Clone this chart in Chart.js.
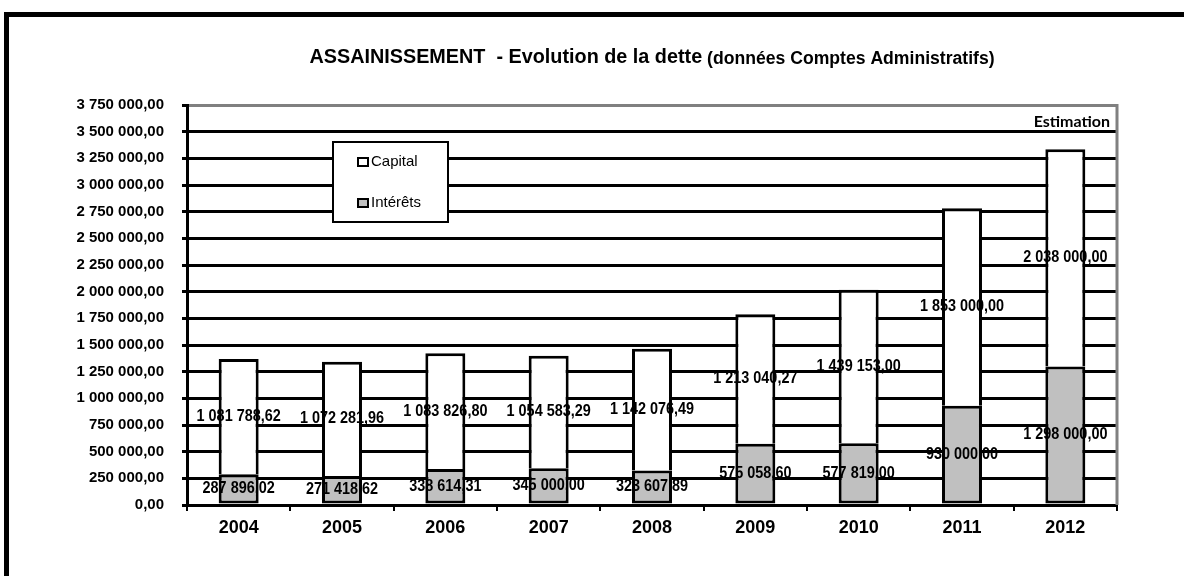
<!DOCTYPE html>
<html>
<head>
<meta charset="utf-8">
<title>Assainissement - Evolution de la dette</title>
<script src="https://cdn.jsdelivr.net/npm/chart.js@4.4.1/dist/chart.umd.min.js"></script>
<style>
  body { margin: 0; background: #fff; }
  canvas { display: block; }
</style>
</head>
<body>
<canvas id="dette" width="1184" height="576"></canvas>
<script>
// données
var annees = ['2004', '2005', '2006', '2007', '2008', '2009', '2010', '2011', '2012'];
var capital = [1081788.62, 1072281.96, 1083826.80, 1054583.29, 1142076.49, 1213040.27, 1439153.00, 1853000.00, 2038000.00];
var interets = [287896.02, 271418.62, 338614.31, 345000.00, 323607.89, 575058.60, 577819.00, 930000.00, 1298000.00];
var titre = 'ASSAINISSEMENT  - Evolution de la dette';
var sousTitre = ' (données Comptes Administratifs)';
var mention = 'Estimation';

var yMax = 3750000;
var yPas = 250000;

Chart.defaults.font.family = "'Liberation Sans', Arial, sans-serif";
Chart.defaults.color = '#000';

function formatFr(v) {
    var parts = v.toFixed(2).split('.');
    var ent = parts[0].replace(/\B(?=(\d{3})+(?!\d))/g, ' ');
    return ent + ',' + parts[1];
}

// cadre noir autour du graphique
var cadre = {
    id: 'cadre',
    beforeDraw: function(chart) {
        var ctx = chart.ctx;
        ctx.save();
        ctx.fillStyle = '#fff';
        ctx.fillRect(0, 0, chart.width, chart.height);
        ctx.strokeStyle = '#000';
        ctx.lineWidth = 5;
        ctx.strokeRect(6.5, 14.5, chart.width + 50, chart.height + 50);
        ctx.restore();
    }
};

// bord droit gris de la zone de tracé
var bordure = {
    id: 'bordure',
    beforeDatasetsDraw: function(chart) {
        var ca = chart.chartArea;
        var ctx = chart.ctx;
        ctx.save();
        ctx.strokeStyle = '#808080';
        ctx.lineWidth = 3;
        ctx.beginPath();
        ctx.moveTo(ca.right, ca.top - 1);
        ctx.lineTo(ca.right, ca.bottom);
        ctx.stroke();
        ctx.restore();
    }
};

// titre en deux morceaux (tailles différentes)
var titreDeux = {
    id: 'titreDeux',
    afterDraw: function(chart) {
        var ctx = chart.ctx;
        var ca = chart.chartArea;
        var etirement = 1.1;
        ctx.save();
        ctx.fillStyle = '#000';
        ctx.textBaseline = 'middle';
        ctx.font = "bold 18px 'Liberation Sans', Arial, sans-serif";
        var w1 = ctx.measureText(titre).width;
        ctx.font = "bold 16px 'Liberation Sans', Arial, sans-serif";
        var w2 = ctx.measureText(sousTitre).width;
        var total = (w1 + w2) * etirement;
        var x0 = (ca.left + ca.right) / 2 - total / 2;
        ctx.translate(x0, 58);
        ctx.scale(etirement, 1.1);
        ctx.textAlign = 'left';
        ctx.font = "bold 18px 'Liberation Sans', Arial, sans-serif";
        ctx.fillText(titre, 0, 0);
        ctx.font = "bold 16px 'Liberation Sans', Arial, sans-serif";
        ctx.fillText(sousTitre, w1, 1);
        ctx.restore();
    }
};

// étiquettes de valeurs au centre de chaque segment
var etiquettes = {
    id: 'etiquettes',
    afterDatasetsDraw: function(chart) {
        var ctx = chart.ctx;
        ctx.save();
        ctx.font = "bold 14px 'Liberation Sans', Arial, sans-serif";
        ctx.fillStyle = '#000';
        ctx.textAlign = 'center';
        ctx.textBaseline = 'middle';
        chart.data.datasets.forEach(function(ds, i) {
            var meta = chart.getDatasetMeta(i);
            meta.data.forEach(function(bar, j) {
                var y = (bar.y + bar.base) / 2;
                ctx.save();
                ctx.translate(bar.x, y);
                ctx.scale(1.03, 1.15);
                ctx.fillText(formatFr(ds.data[j]), 0, 0);
                ctx.restore();
            });
        });
        ctx.restore();
    }
};

// légende encadrée dans la zone de tracé + mention "Estimation"
var legende = {
    id: 'legende',
    afterDatasetsDraw: function(chart) {
        var ctx = chart.ctx;
        var ca = chart.chartArea;
        var bx = ca.left + 146, by = ca.top + 37, bw = 115, bh = 80;
        ctx.save();
        ctx.fillStyle = '#fff';
        ctx.fillRect(bx, by, bw, bh);
        ctx.strokeStyle = '#000';
        ctx.lineWidth = 2;
        ctx.strokeRect(bx, by, bw, bh);

        var items = [chart.data.datasets[1], chart.data.datasets[0]];
        ctx.font = "15px 'Liberation Sans', Arial, sans-serif";
        ctx.textBaseline = 'middle';
        ctx.textAlign = 'left';
        items.forEach(function(ds, k) {
            var cy = by + 20 + k * 41;
            ctx.fillStyle = ds.backgroundColor;
            ctx.fillRect(bx + 25, cy - 4, 10, 8);
            ctx.lineWidth = 2;
            ctx.strokeStyle = '#000';
            ctx.strokeRect(bx + 25, cy - 4, 10, 8);
            ctx.fillStyle = '#000';
            ctx.fillText(ds.label, bx + 38, cy);
        });

        ctx.font = "bold 16px Lato, 'Liberation Sans', sans-serif";
        ctx.textAlign = 'right';
        ctx.fillText(mention, ca.right - 7, ca.top + 17);
        ctx.restore();
    }
};

var ctx = document.getElementById('dette').getContext('2d');
var chart = new Chart(ctx, {
    type: 'bar',
    data: {
        labels: annees,
        datasets: [{
            label: 'Intérêts',
            data: interets,
            backgroundColor: '#c0c0c0',
            borderColor: '#000',
            borderWidth: 3,
            borderSkipped: false
        }, {
            label: 'Capital',
            data: capital,
            backgroundColor: '#ffffff',
            borderColor: '#000',
            borderWidth: 3,
            borderSkipped: 'bottom'
        }]
    },
    options: {
        responsive: false,
        animation: false,
        layout: { padding: { left: 0, right: 67, top: 105, bottom: 0 } },
        datasets: { bar: { categoryPercentage: 1.0, barPercentage: 0.387 } },
        plugins: {
            legend: { display: false },
            title: { display: false },
            tooltip: { enabled: false }
        },
        scales: {
            x: {
                stacked: true,
                grid: {
                    display: true,
                    drawOnChartArea: false,
                    drawTicks: true,
                    tickLength: 6,
                    offset: true,
                    color: '#000',
                    lineWidth: 2
                },
                border: { display: true, color: '#000', width: 3 },
                ticks: {
                    padding: 6,
                    font: { size: 18, weight: 'bold' },
                    color: '#000'
                },
                afterFit: function(scale) { scale.height = 71; }
            },
            y: {
                stacked: true,
                min: 0,
                max: yMax,
                grid: {
                    color: function(c) { return c.tick && c.tick.value === yMax ? '#808080' : '#000'; },
                    tickColor: '#000',
                    lineWidth: 3,
                    tickLength: 5
                },
                border: { display: true, color: '#000', width: 3 },
                ticks: {
                    stepSize: yPas,
                    padding: 18,
                    font: { size: 15, weight: 'bold' },
                    color: '#000',
                    callback: function(v) { return formatFr(v); }
                },
                afterFit: function(scale) { scale.width = 187; }
            }
        }
    },
    plugins: [cadre, bordure, titreDeux, etiquettes, legende]
});
</script>
</body>
</html>
